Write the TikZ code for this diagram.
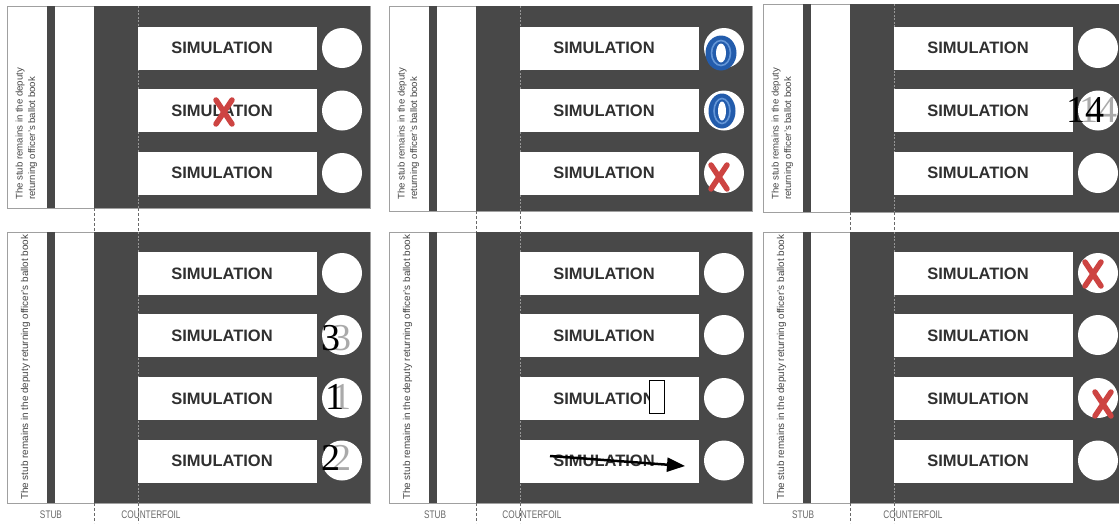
\documentclass[tikz,border=0pt]{standalone}
\usepackage{fontspec}
\setmainfont{Liberation Serif}
\setsansfont{Liberation Sans}
\usetikzlibrary{arrows.meta}
\definecolor{darkfill}{RGB}{72,72,72}
\definecolor{framegray}{RGB}{160,160,160}
\definecolor{simtxt}{RGB}{48,48,48}
\definecolor{stubtxt}{RGB}{70,70,70}
\definecolor{xred}{RGB}{205,68,66}
\definecolor{oblue}{RGB}{35,92,172}
\definecolor{oblueL}{RGB}{100,150,215}
\definecolor{ghostgray}{RGB}{170,170,170}
\definecolor{lblgray}{RGB}{105,105,105}
\definecolor{perfgray}{RGB}{150,150,150}
\begin{document}
\begin{tikzpicture}[x=1pt,y=-1pt,
  panelframe/.style={draw=framegray,line width=0.6pt,fill=white},
  darkpart/.style={fill=darkfill},
  namebox/.style={rectangle,fill=white,inner sep=0pt,minimum width=179pt,minimum height=43pt,anchor=north west},
  ballot/.style={circle,fill=white,inner sep=0pt,minimum size=40pt},
  simtext/.style={inner sep=0pt,text=simtxt,font=\sffamily\bfseries\fontsize{16.5}{16.5}\selectfont},
  stubtext/.style={inner sep=0pt,rotate=90,anchor=west,align=left,text=stubtxt,font=\sffamily\fontsize{9.6}{12.5}\selectfont},
  stubtextlong/.style={stubtext,font=\sffamily\fontsize{9.9}{12.5}\selectfont},
  perf/.style={draw=perfgray,line width=0.6pt,dash pattern=on 2pt off 1.5pt},
  tickline/.style={draw=lblgray,line width=0.6pt,dash pattern=on 3pt off 2pt},
  lbl/.style={inner sep=0pt,text=lblgray,xscale=0.75,font=\sffamily\fontsize{11}{11}\selectfont},
  numblack/.style={inner sep=0pt,text=black,font=\fontsize{38}{38}\selectfont},
  numghost/.style={inner sep=0pt,text=ghostgray,font=\fontsize{38}{38}\selectfont},
  glyphbox/.style={rectangle,draw=black,line width=0.8pt,fill=white,inner sep=0pt,anchor=north west,minimum width=15pt,minimum height=33pt},
  redcross/.pic={\draw[xred,line width=5.5pt,line cap=round] (-8,-12) -- (8,12) (8,-12) -- (-8,12);}
]
\useasboundingbox (0,0) rectangle (1119,523);
\clip (0,0) rectangle (1119,523);
\fill[white] (0,0) rectangle (1119,523);

% ---------- top panels ----------
\foreach \x/\t/\b/\p in {7/6/208/A, 389/6/211/B, 763/4/212/C}{
  \pgfmathsetmacro{\xr}{min(\x+363,1119)}
  \draw[panelframe] (\x,\t) rectangle (\xr,\b);
  \fill[darkpart] (\x+40,\t) rectangle (\x+48,\b);
  \fill[darkpart] (\x+87,\t) rectangle (\xr,\b);
  \draw[perf] (\x+131,\t) -- (\x+131,\b);
  \foreach \r/\yy in {1/26.5,2/89,3/151.5}{
    \node[namebox] (\p-box-\r) at (\x+131,\yy) {};
    \node[ballot] (\p-c-\r) at (\x+335,\yy+21.5) {};
    \node[simtext] (\p-t-\r) at (\x+215,\yy+21.5) {SIMULATION};
  }
  \node[stubtext] (\p-stub) at (\x+19.5,200) {The stub remains in the deputy\\returning officer's ballot book};
  \draw[tickline] (\x+87,\b) -- (\x+87,232);
  \draw[tickline] (\x+131,\b) -- (\x+131,232);
}

% ---------- bottom panels ----------
\foreach \x/\p/\sx/\cx in {7/D/44/144, 389/E/46/143, 763/F/40/150}{
  \pgfmathsetmacro{\xr}{min(\x+363,1119)}
  \draw[panelframe] (\x,232) rectangle (\xr,503);
  \fill[darkpart] (\x+40,232) rectangle (\x+48,503);
  \fill[darkpart] (\x+87,232) rectangle (\xr,503);
  \draw[perf] (\x+131,232) -- (\x+131,503);
  \foreach \r/\yy in {1/252,2/314,3/377,4/439.5}{
    \node[namebox] (\p-box-\r) at (\x+131,\yy) {};
    \node[ballot] (\p-c-\r) at (\x+335,\yy+21) {};
    \node[simtext] (\p-t-\r) at (\x+215,\yy+21.5) {SIMULATION};
  }
  \node[stubtextlong] (\p-stub) at (\x+18.5,500) {The stub remains in the deputy returning officer's ballot book};
  \draw[tickline] (\x+87,503) -- (\x+87,523);
  \draw[tickline] (\x+131,503) -- (\x+131,523);
  \node[lbl] (\p-stublbl) at (\x+\sx,515) {STUB};
  \node[lbl] (\p-cflbl) at (\x+\cx,515) {COUNTERFOIL};
}

% ---------- marks: top-left ----------
\pic at (224,112) {redcross};

% ---------- marks: top-middle ----------
\fill[oblue] (721,53) ellipse [x radius=15.5, y radius=17.5];
\draw[oblueL,line width=1.6pt] (721,53) ellipse [x radius=9.5, y radius=12.5];
\fill[white] (721,53) ellipse [x radius=5, y radius=9.5];
\fill[oblue] (722,111) ellipse [x radius=13.5, y radius=17.5];
\draw[oblueL,line width=1.6pt] (722,111) ellipse [x radius=8, y radius=12.5];
\fill[white] (722,111) ellipse [x radius=4, y radius=9.5];
\pic at (719,177) {redcross};

% ---------- marks: top-right ----------
\node[numghost] (g14) at (1098,110) {14};
\node[numblack] (n14) at (1085,110) {14};

% ---------- marks: bottom-left ----------
\node[numghost] (g3) at (342,338) {3};
\node[numblack] (n3) at (331,338) {3};
\node[numghost] (g1) at (342,397) {1};
\node[numblack] (n1) at (335,397) {1};
\node[numghost] (g2) at (342,458) {2};
\node[numblack] (n2) at (331,458) {2};

% ---------- marks: bottom-middle ----------
\node[glyphbox] (gb) at (649,380) {};
\coordinate (arrS) at (550,456);
\coordinate (arrE) at (685,466);
\draw[line width=2.5pt,-{Triangle[length=18pt,width=14pt]}] (arrS) -- (arrE);

% ---------- marks: bottom-right ----------
\pic at (1093,274) {redcross};
\pic at (1103,404) {redcross};
\end{tikzpicture}
\end{document}
